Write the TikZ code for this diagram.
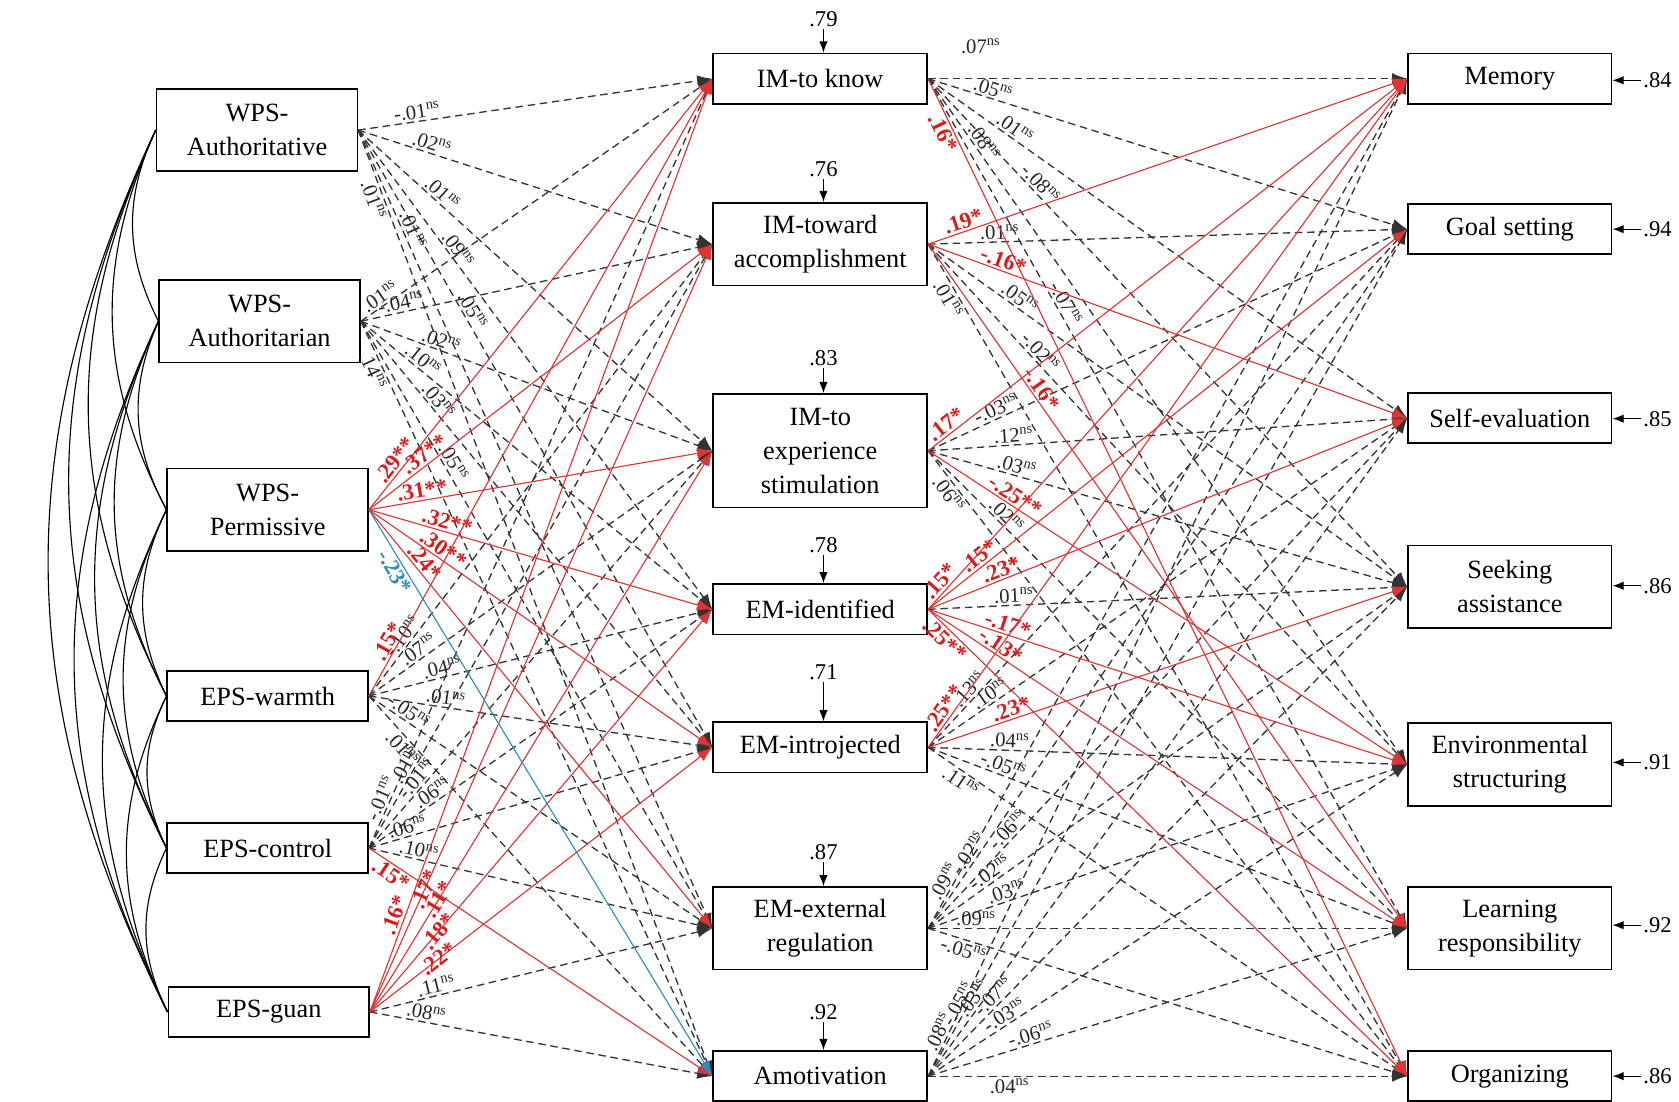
\documentclass[tikz,border=0pt]{standalone}
\usepackage{fontspec}
\setmainfont{Liberation Serif}
\usetikzlibrary{positioning,arrows.meta}
\definecolor{pathred}{RGB}{222,52,52}
\definecolor{labred}{RGB}{214,28,28}
\definecolor{pathblue}{RGB}{45,140,190}
\newcommand{\nsv}[1]{#1\textsuperscript{ns}}
\newcommand{\sgv}[1]{\textbf{#1}}
\tikzset{
  box/.style={draw, line width=0.9pt, fill=white, align=center, inner sep=0pt,
    font=\fontsize{14}{18}\selectfont},
  lbox/.style={box, minimum width=3.75cm},
  mbox/.style={box, minimum width=4cm},
  rbox/.style={box, minimum width=3.8cm},
  nsp/.style={draw=black!80, line width=0.7pt, dash pattern=on 4pt off 2.5pt,
    -{Latex[length=8pt,width=6pt]}},
  sgp/.style={draw=pathred, line width=0.6pt, -{Latex[length=8pt,width=6pt]}},
  ngp/.style={draw=pathblue, line width=0.6pt, -{Latex[length=8pt,width=6pt]}},
  nsl/.style={sloped, inner sep=1pt, text=black!85, font=\fontsize{11}{13}\selectfont},
  sgl/.style={nsl, text=labred, font=\fontsize{12}{13}\selectfont},
  ngl/.style={sgl, text=pathblue},
  cov/.style={line width=0.6pt},
  resl/.style={inner sep=1pt, font=\fontsize{12}{14}\selectfont},
  resa/.style={line width=0.7pt, -{Latex[length=6pt,width=4.5pt]}}
}

\begin{document}
\begin{tikzpicture}[x=0.02cm, y=-0.02cm]
\useasboundingbox (0,0) rectangle (1568,1029);

\node[lbox, minimum height=1.54cm] (l1) at (240,121.5) {WPS-\\Authoritative};
\node[lbox, minimum height=1.54cm] (l2) at (242.5,300) {WPS-\\Authoritarian};
\node[lbox, minimum height=1.54cm] (l3) at (250,476) {WPS-\\Permissive};
\node[lbox, minimum height=0.94cm] (l4) at (250,650) {EPS-warmth};
\node[lbox, minimum height=0.94cm] (l5) at (250,792) {EPS-control};
\node[lbox, minimum height=0.94cm] (l6) at (251,945) {EPS-guan};

\node[mbox, minimum height=0.94cm] (m1) at (766,73.5) {IM-to know};
\node[mbox, minimum height=1.54cm] (m2) at (766,228) {IM-toward\\accomplishment};
\node[mbox, minimum height=2.12cm] (m3) at (766,421) {IM-to\\experience\\stimulation};
\node[mbox, minimum height=0.94cm] (m4) at (766,569) {EM-identified};
\node[mbox, minimum height=0.94cm] (m5) at (766,698) {EM-introjected};
\node[mbox, minimum height=1.54cm] (m6) at (766,867) {EM-external\\regulation};
\node[mbox, minimum height=0.94cm] (m7) at (766,1005) {Amotivation};

\node[rbox, minimum height=0.94cm] (r1) at (1410,73.5) {Memory};
\node[rbox, minimum height=0.94cm] (r2) at (1410,214) {Goal setting};
\node[rbox, minimum height=0.94cm] (r3) at (1410,390.5) {Self-evaluation};
\node[rbox, minimum height=1.54cm] (r4) at (1410,548) {Seeking\\assistance};
\node[rbox, minimum height=1.54cm] (r5) at (1410,714) {Environmental\\structuring};
\node[rbox, minimum height=1.54cm] (r6) at (1410,867) {Learning\\responsibility};
\node[rbox, minimum height=0.94cm] (r7) at (1410,1005) {Organizing};

% correlations among the parenting styles
\foreach \a/\b in {l1/l2,l1/l3,l1/l4,l1/l5,l1/l6,l2/l3,l2/l4,l2/l5,l2/l6,
                   l3/l4,l3/l5,l3/l6,l4/l5,l4/l6,l5/l6}
  \draw[cov] (\a.west) to[bend right=26] (\b.west);

% residuals
\foreach \n/\y/\v in {1/18/.79,2/158/.76,3/334/.83,4/509/.78,5/628/.71,6/796/.87,7/945/.92}{
  \node[resl] (e\n) at (769,\y) {\v};
  \draw[resa] (e\n.south) -- (e\n.south |- m\n.north);
}
\foreach \n/\y/\v in {1/75/.84,2/214/.94,3/391/.85,4/547/.86,5/712/.91,6/864/.92,7/1005/.86}{
  \node[resl] (f\n) at (1548,\y) {\v};
  \draw[resa] (f\n.west) -- (r\n.east |- f\n.west);
}

% non-significant paths
\draw[nsp] (m1.east) -- node[nsl, pos=0.11, anchor=south, yshift=12pt] {\nsv{.07}} (r1.west);
\foreach \s/\t/\l/\p/\q in {
  l1/m1/-.01/0.17/south, l1/m2/.02/0.2/south, l1/m3/.01/0.22/south,
  l1/m4/.09/0.26/south, l1/m5/.05/0.3/south, l1/m6/.01/0.13/south, l1/m7/.01/0.07/north,
  l2/m1/.01/0.07/south, l2/m2/-.04/0.12/south, l2/m3/.02/0.22/south,
  l2/m4/.10/0.16/south, l2/m5/.03/0.2/south, l2/m6/.05/0.24/south, l2/m7/.14/0.06/north,
  l4/m2/-.10/0.12/south, l4/m3/.07/0.16/south, l4/m4/.04/0.22/south,
  l4/m5/.01/0.22/south, l4/m6/-.05/0.1/south, l4/m7/.01/0.12/north,
  l5/m1/-.01/0.06/south, l5/m2/.01/0.13/south, l5/m3/-.01/0.16/south,
  l5/m4/.06/0.2/south, l5/m5/.06/0.12/south, l5/m6/.10/0.14/south,
  l6/m6/.11/0.2/south, l6/m7/.08/0.16/south,
  m1/r2/.05/0.13/south, m1/r3/.01/0.17/south,
  m1/r4/-.08/0.22/south, m1/r5/.08/0.1/south, m1/r6/-.07/0.27/south,
  m2/r2/.01/0.15/south, m2/r4/.05/0.18/south, m2/r5/-.02/0.22/south, m2/r7/.01/0.06/north,
  m3/r2/-.03/0.15/south, m3/r3/.12/0.18/south, m3/r4/.03/0.18/south,
  m3/r6/.02/0.15/south, m3/r7/.06/0.06/north,
  m4/r4/.01/0.18/south,
  m5/r2/.13/0.1/south, m5/r3/.10/0.14/south, m5/r5/.04/0.17/south,
  m5/r6/-.05/0.15/south, m5/r7/.11/0.08/north,
  m6/r1/.09/0.05/south, m6/r2/-.02/0.1/south, m6/r3/-.06/0.18/south,
  m6/r4/-.02/0.14/south, m6/r5/.03/0.17/south, m6/r6/.09/0.1/south, m6/r7/-.05/0.08/north,
  m7/r1/.08/0.04/south, m7/r2/-.05/0.08/south, m7/r3/.03/0.11/south,
  m7/r4/-.07/0.15/south, m7/r5/-.03/0.17/south, m7/r6/-.06/0.22/south,
  m7/r7/.04/0.17/north}
  \draw[nsp] (\s.east) -- node[nsl, pos=\p, anchor=\q] {\nsv{\l}} (\t.west);

% significant paths
\foreach \s/\t/\l/\p/\q in {
  l3/m1/.29**/0.1/south, l3/m2/.37**/0.18/south, l3/m3/.31**/0.16/south,
  l3/m4/.32**/0.22/south, l3/m5/.30**/0.2/south, l3/m6/.24*/0.14/south,
  l4/m1/.15*/0.08/south, l5/m7/.15*/0.08/north,
  l6/m1/.16*/0.1/south, l6/m2/.17*/0.16/center, l6/m3/.11*/0.2/center,
  l6/m4/.18*/0.2/center, l6/m5/.22*/0.2/center,
  m1/r7/.16*/0.05/north,
  m2/r1/.19*/0.08/south, m2/r3/-.16*/0.15/south, m2/r6/-.16*/0.22/south,
  m3/r1/.17*/0.05/south, m3/r5/-.25**/0.17/south,
  m4/r1/.15*/0.04/south, m4/r2/.15*/0.12/south, m4/r3/.23*/0.16/south,
  m4/r5/-.17*/0.16/south, m4/r6/-.13*/0.14/south, m4/r7/.25**/0.05/north,
  m5/r1/.25**/0.05/south, m5/r4/.23*/0.18/south}
  \draw[sgp] (\s.east) -- node[sgl, pos=\p, anchor=\q] {\sgv{\l}} (\t.west);

\draw[ngp] (l3.east) -- node[ngl, pos=0.1, anchor=north] {\sgv{-.23*}} (m7.west);
\end{tikzpicture}
\end{document}
